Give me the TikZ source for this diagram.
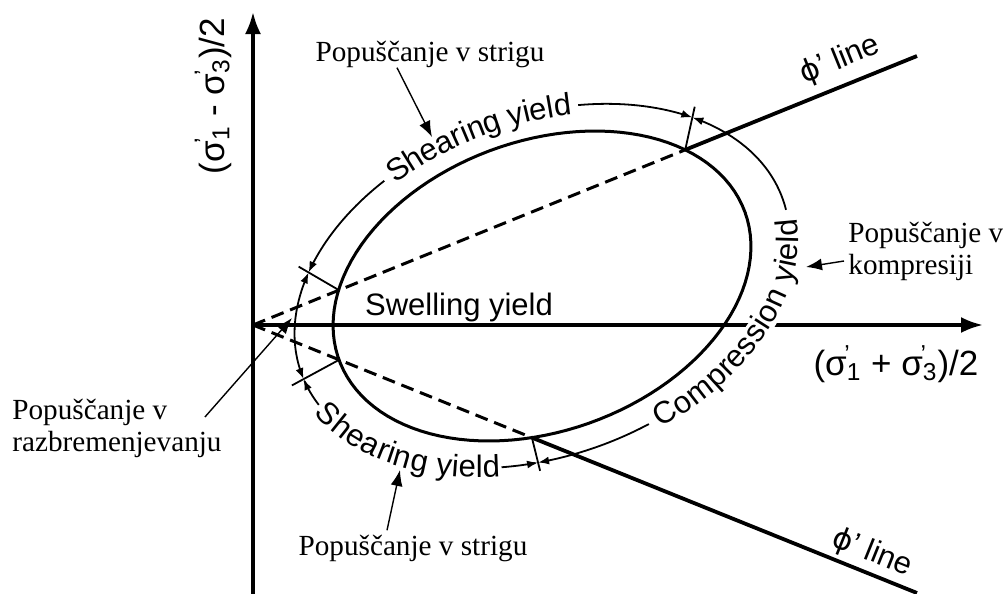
\documentclass[tikz,border=0pt]{standalone}
\usepackage{fontspec}
\setmainfont{Liberation Serif}
\setsansfont{Liberation Sans}
\newfontfamily\phifont{DejaVu Sans}
\usetikzlibrary{arrows.meta,calc,decorations.text}
\newcommand{\labfont}{\sffamily\fontsize{15.5}{18}\selectfont}
\newcommand{\sgm}[1]{σ\rlap{\textsuperscript{\kern-0.1em'}}\textsubscript{#1}}
\newcommand{\phil}{{\phifont\fontsize{15}{18}\selectfont ϕ}'}
\tikzset{
  declare function={
    ex(\t)=542+216*cos(\t)*cos(20)-145*sin(\t)*sin(20);
    ey(\t)=286-216*cos(\t)*sin(20)-145*sin(\t)*cos(20);
    ox(\t)=542+256*cos(\t)*cos(20)-170*sin(\t)*sin(20);
    oy(\t)=286-256*cos(\t)*sin(20)-170*sin(\t)*cos(20);},
  >={Latex[length=5.5pt,width=4pt]},
  axis/.style={line width=1.7pt,-{Latex[length=11pt,width=8pt]}},
  yline/.style={line width=1.5pt},
  philine/.style={line width=1.9pt},
  phid/.style={line width=1.5pt,dash pattern=on 6.5pt off 3.5pt},
  zone/.style={line width=0.9pt},
  tickm/.style={line width=0.9pt},
  ann/.style={line width=0.7pt,-{Latex[length=8pt,width=6pt]}},
  note/.style={font=\fontsize{14.6}{16}\selectfont,align=left,inner sep=0pt},
  lab/.style={font=\labfont,inner sep=0pt},
  axlab/.style={font=\sffamily\fontsize{17.5}{20}\selectfont,inner sep=0pt},
  alongtext/.style={decorate,decoration={text along path,text align=center,raise=-4.5pt,text={|\labfont|#1}}},
}
\begin{document}
\begin{tikzpicture}[x=0.5pt,y=-0.5pt]
\useasboundingbox (0,0) rectangle (1003,594);
% axes
\coordinate (O) at (253,325);
\coordinate (yb) at (253,594);
\coordinate (yt) at (253,12);
\coordinate (xe) at (983,325);
\draw[axis] (yb) -- (yt);
\draw[axis] (O) -- (xe);
\node[axlab,rotate=90] (ylab) at (213,96) {(\sgm{1} - \sgm{3})/2};
\node[axlab] (xlab) at (896,364) {(\sgm{1} + \sgm{3})/2};
% yield surface
\draw[yline] plot[domain=0:360,samples=120] ({ex(\x)},{ey(\x)}) -- cycle;
\foreach \n/\ta/\tb in {ul/153/147,ll/180/182,lr/253.5/255.5,ur/33/39}{
  \coordinate (p\n) at ({ex(\ta)},{ey(\ta)});
  \coordinate (o\n) at ({ox(\tb)},{oy(\tb)});
}
% phi' lines
\coordinate (ue) at (917,56);
\coordinate (le) at (917,593);
\draw[phid] (O) -- (pur);
\draw[phid] (O) -- (plr);
\draw[philine] (pur) -- (ue);
\draw[philine] (plr) -- (le);
\node[lab,rotate=22] (phu) at (840,60) {\phil\ line};
\node[lab,rotate=-22] (phl) at (872,553) {\phil\ line};
\foreach \n in {ul,ll,lr,ur} \draw[tickm] (p\n) -- ($(p\n)!1.33!(o\n)$);
% zones
\draw[zone,->] plot[domain=116:147,samples=25] ({ox(\x)},{oy(\x)});
\draw[zone,->] plot[domain=68:39,samples=25] ({ox(\x)},{oy(\x)});
\path[alongtext={Shearing yield}] plot[domain=116:68,samples=40] ({ox(\x)},{oy(\x)});
\draw[white,line width=12pt] plot[domain=-58:-26,samples=20] ({ox(\x)},{oy(\x)});
\draw[zone,->] plot[domain=-78:-104.5,samples=25] ({ox(\x)},{oy(\x)});
\draw[zone,->] plot[domain=-4:39,samples=25] ({ox(\x)},{oy(\x)});
\path[alongtext={Compression yield}] plot[domain=-79:-3,samples=50] ({ox(\x)},{oy(\x)});
\draw[zone,->] plot[domain=192:182,samples=15] ({ox(\x)},{oy(\x)});
\draw[zone,->] plot[domain=247:255.5,samples=15] ({ox(\x)},{oy(\x)});
\path[alongtext={Shearing yield}] plot[domain=191:248,samples=40] ({ox(\x)},{oy(\x)});
\draw[zone,<->] plot[domain=147:182,samples=25] ({ox(\x)},{oy(\x)});
\node[lab] (sw) at (459,307) {Swelling yield};
% notes
\node[note] (tsh) at (430,54) {Popuščanje v strigu};
\node[note,anchor=west] (tko) at (848,251) {Popuščanje v\\kompresiji};
\node[note,anchor=west] (tra) at (12,428) {Popuščanje v\\razbremenjevanju};
\node[note] (tbs) at (413,548) {Popuščanje v strigu};
\coordinate (tshE) at (432,137);
\coordinate (tkoE) at (806,267);
\coordinate (traE) at (292,318);
\coordinate (tbsE) at (400,470);
\draw[ann] ([xshift=-16.5pt]tsh.south) -- (tshE);
\draw[ann] ($(tko.west)+(-4,10)$) -- (tkoE);
\draw[ann] ($(tra.east)+(-17,-11)$) -- (traE);
\draw[ann] ($(tbs.north)+(-26,-4)$) -- (tbsE);
\end{tikzpicture}
\end{document}
